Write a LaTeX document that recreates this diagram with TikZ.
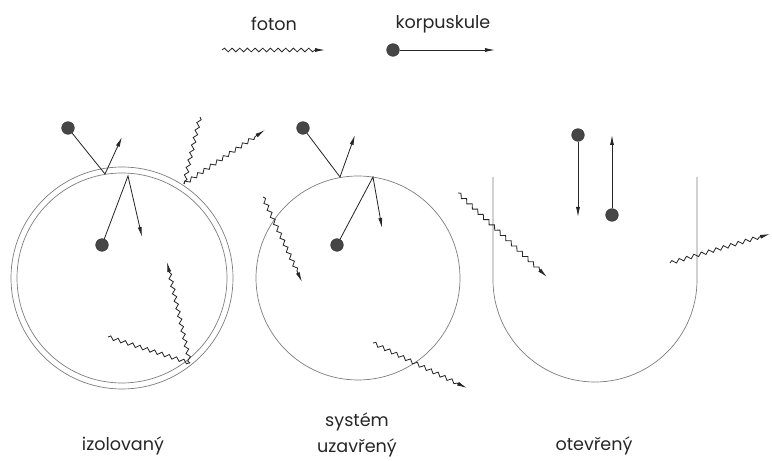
\documentclass[tikz,border=0pt]{standalone}
\usepackage{fontspec}
\setmainfont{Poppins}
\usetikzlibrary{arrows.meta,decorations.pathmorphing}
\definecolor{wallgray}{RGB}{125,125,125}
\definecolor{inkgray}{RGB}{70,70,70}
\tikzset{
  wall/.style={draw=wallgray,line width=0.6pt},
  ball/.style={circle,fill=inkgray,draw=black!80,inner sep=0pt,minimum size=0.38cm},
  track/.style={draw=black!85,line width=0.7pt,-{Latex[length=3mm,width=1.2mm]}},
  wave/.style={draw=black!85,line width=0.7pt,decorate,decoration={snake,segment length=2.3mm,amplitude=0.55mm}},
  photon/.style={track,decorate,decoration={snake,segment length=2.3mm,amplitude=0.55mm,post length=2.5mm}},
  caption/.style={font=\fontsize{15}{22}\selectfont,text=black!85,align=center}
}
\begin{document}
\begin{tikzpicture}[x=0.03cm,y=0.03cm]
  \useasboundingbox (0,0) rectangle (772,-461);

  % legend
  \node[caption] (fotonlab) at (274,-24) {foton};
  \node[caption] (korplab) at (443,-24) {korpuskule};
  \coordinate (lfa) at (222,-50);
  \coordinate (lfb) at (325,-50);
  \draw[photon] (lfa) -- (lfb);
  \node[ball] (lk) at (393,-50) {};
  \coordinate (lkb) at (495,-50);
  \draw[track] (lk) -- (lkb);

  % izolovany: double wall
  \draw[wall] (122,-278) circle (111);
  \draw[wall] (122,-278) circle (105);
  \node[ball] (ia) at (68,-128) {};
  \coordinate (iaw) at (105,-174);
  \coordinate (iae) at (122,-137);
  \draw[track] (ia) -- (iaw) -- (iae);
  \node[ball] (ib) at (102,-245) {};
  \coordinate (ibw) at (128,-176);
  \coordinate (ibe) at (142,-237);
  \draw[track] (ib) -- (ibw) -- (ibe);
  \coordinate (ifa) at (200,-117);
  \coordinate (ifw) at (184,-184);
  \coordinate (ife) at (265,-130);
  \draw[wave] (ifa) -- (ifw);
  \draw[photon] (ifw) -- (ife);
  \coordinate (ifc) at (108,-337);
  \coordinate (ifx) at (190,-363);
  \coordinate (iff) at (167,-262);
  \draw[wave] (ifc) -- (ifx);
  \draw[photon] (ifx) -- (iff);

  % uzavreny: closed wall
  \draw[wall] (358,-278) circle (102);
  \node[ball] (ua) at (303,-128) {};
  \coordinate (uaw) at (340,-177);
  \coordinate (uae) at (355,-135);
  \draw[track] (ua) -- (uaw) -- (uae);
  \node[ball] (ub) at (337,-245) {};
  \coordinate (ubw) at (373,-177);
  \coordinate (ube) at (382,-228);
  \draw[track] (ub) -- (ubw) -- (ube);
  \coordinate (ufa) at (263,-197);
  \coordinate (ufe) at (302,-282);
  \draw[photon] (ufa) -- (ufe);
  \coordinate (ufb) at (373,-343);
  \coordinate (uff) at (467,-388);
  \draw[photon] (ufb) -- (uff);

  % otevreny: open vessel
  \draw[wall] (493,-177) -- (493,-280) arc[start angle=180,end angle=360,radius=102] -- (697,-177);
  \node[ball] (oa) at (578,-135) {};
  \coordinate (oae) at (578,-217);
  \draw[track] (oa) -- (oae);
  \node[ball] (ob) at (612,-215) {};
  \coordinate (obe) at (612,-135);
  \draw[track] (ob) -- (obe);
  \coordinate (ofa) at (458,-193);
  \coordinate (ofe) at (547,-277);
  \draw[photon] (ofa) -- (ofe);
  \coordinate (ofb) at (670,-263);
  \coordinate (off) at (770,-234);
  \draw[photon] (ofb) -- (off);

  % captions
  \node[caption] (izol) at (123,-446) {izolovaný};
  \node[caption] (uzav) at (357,-435) {systém\\uzavřený};
  \node[caption] (otev) at (594,-446) {otevřený};
\end{tikzpicture}
\end{document}
